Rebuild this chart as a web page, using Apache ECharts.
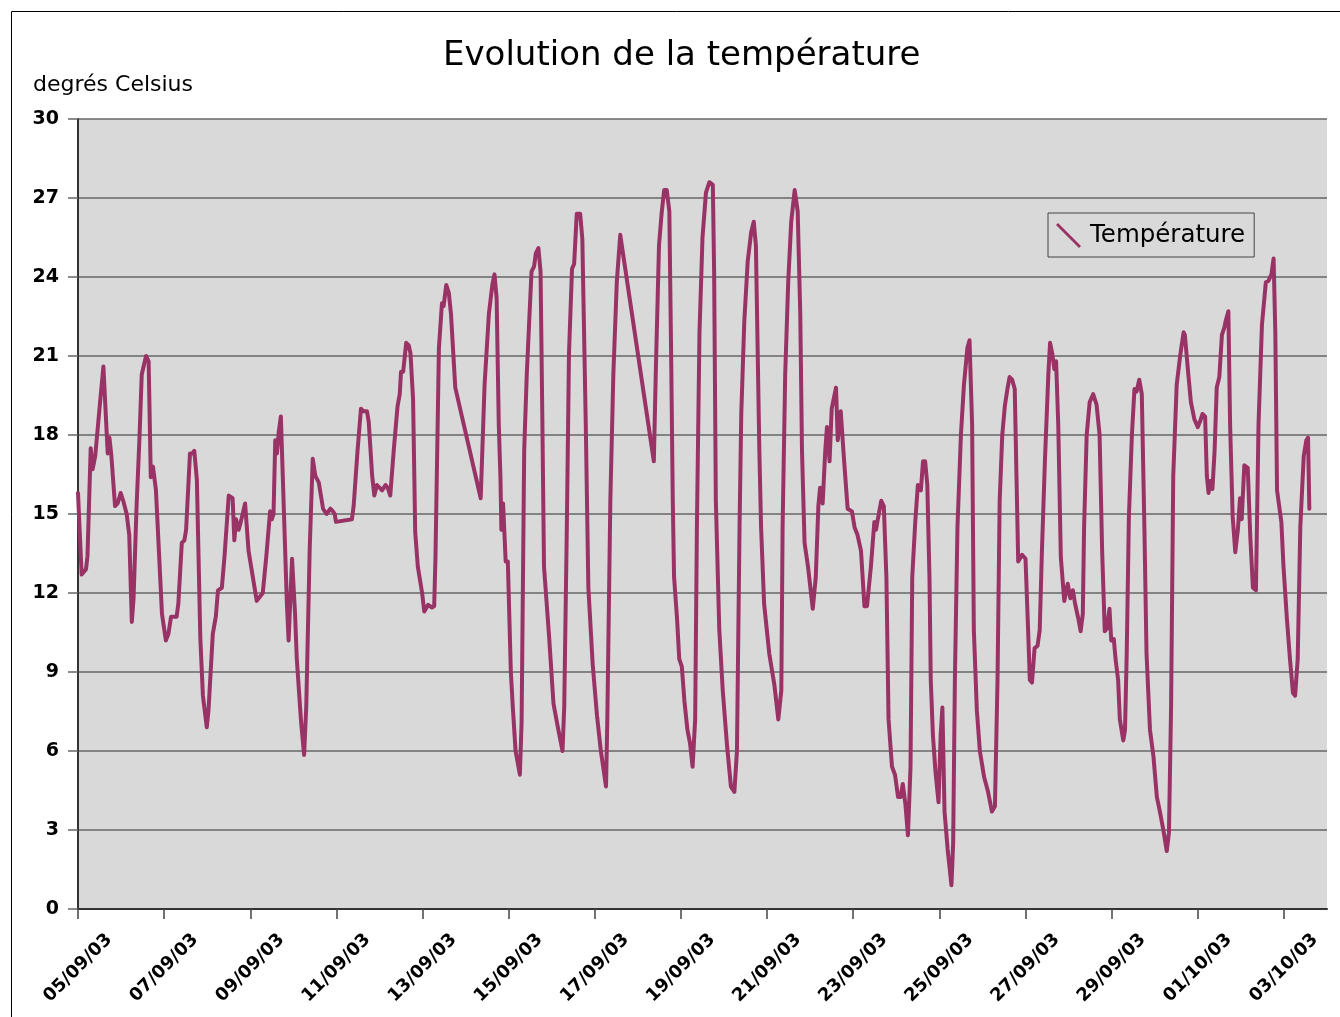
<!DOCTYPE html>
<html>
<head>
<meta charset="utf-8">
<title>Evolution de la température</title>
<script src="https://cdn.jsdelivr.net/npm/echarts@6/dist/echarts.min.js"></script>
<style>
  html, body { margin: 0; padding: 0; background: #fff; }
  #chart { width: 1340px; height: 1017px; }
</style>
</head>
<body>
<div id="chart"></div>
<script>
// tick labels, one every two days starting 05/09/03
const dateLabels = ['05/09/03', '07/09/03', '09/09/03', '11/09/03', '13/09/03', '15/09/03', '17/09/03',
    '19/09/03', '21/09/03', '23/09/03', '25/09/03', '27/09/03', '29/09/03', '01/10/03', '03/10/03'];
const tempTicks = [0, 3, 6, 9, 12, 15, 18, 21, 24, 27, 30];

// time of each reading, in days since 05/09/03 00:00
const days = [
    0, 0.085, 0.186, 0.22, 0.295, 0.34, 0.40, 0.51, 0.59, 0.63, 0.69, 0.73, 0.775, 0.86, 0.92, 0.99,
    1.05, 1.13, 1.19, 1.25, 1.29, 1.36, 1.43, 1.48, 1.58, 1.64, 1.69, 1.74, 1.81, 1.95,
    2.04, 2.10, 2.16, 2.29, 2.33, 2.41, 2.47, 2.51, 2.55, 2.60, 2.66, 2.70, 2.76, 2.84, 2.90, 2.99,
    3.03, 3.13, 3.20, 3.25, 3.34, 3.40, 3.50, 3.59, 3.63, 3.67, 3.73, 3.78, 3.88, 3.96,
    4.05, 4.15, 4.19, 4.29, 4.37, 4.46, 4.50, 4.54, 4.58, 4.62, 4.66, 4.71, 4.74, 4.85, 4.89, 4.97,
    5.04, 5.08, 5.18, 5.25, 5.30, 5.38, 5.45, 5.51, 5.55, 5.59, 5.63, 5.69, 5.77, 5.86, 5.92, 5.96, 5.99,
    6.36, 6.40, 6.49, 6.57, 6.63, 6.71, 6.75, 6.83, 6.88, 6.94,
    7.00, 7.06, 7.14, 7.19, 7.25, 7.33, 7.42, 7.47, 7.50, 7.55, 7.62, 7.68, 7.72, 7.78, 7.83, 7.89, 7.99,
    8.04, 8.13, 8.22, 8.27, 8.30, 8.38, 8.45, 8.49, 8.55, 8.61, 8.66, 8.76,
    9.35, 9.44, 9.54, 9.62, 9.67, 9.72, 9.77, 9.81, 9.83, 9.87, 9.91, 9.93, 9.98,
    10.05, 10.10, 10.16, 10.26, 10.30, 10.36, 10.42, 10.47, 10.53, 10.59, 10.63, 10.69, 10.74, 10.78, 10.82, 10.94,
    11.04, 11.13, 11.25, 11.29, 11.35, 11.40, 11.47, 11.52, 11.58, 11.66, 11.71, 11.79, 11.85, 11.95,
    12.05, 12.14, 12.26, 12.29, 12.36, 12.43, 12.51, 12.59,
    13.37, 13.42, 13.49, 13.55, 13.61, 13.67, 13.73, 13.77, 13.81, 13.84, 13.91, 13.96,
    14.02, 14.08, 14.15, 14.21, 14.27, 14.33, 14.37, 14.43, 14.50, 14.58, 14.66, 14.74, 14.77, 14.81, 14.89, 14.97,
    15.07, 15.16, 15.24, 15.30, 15.36, 15.40, 15.47, 15.55, 15.63, 15.69, 15.74, 15.82, 15.86, 15.93,
    16.05, 16.17, 16.26, 16.33, 16.36, 16.42, 16.49, 16.56, 16.64, 16.71, 16.77, 16.81, 16.87, 16.95,
    17.06, 17.13, 17.19, 17.23, 17.29, 17.35, 17.39, 17.45, 17.50, 17.60, 17.64, 17.71, 17.78, 17.87, 17.97,
    18.03, 18.10, 18.18, 18.26, 18.32, 18.41, 18.49, 18.53, 18.57, 18.65, 18.71, 18.77, 18.82, 18.90, 18.97,
    19.04, 19.10, 19.15, 19.21, 19.27, 19.33, 19.37, 19.44, 19.50, 19.57, 19.62, 19.67, 19.72, 19.77, 19.80, 19.85, 19.91, 19.98,
    20.03, 20.07, 20.12, 20.19, 20.28, 20.32, 20.36, 20.42, 20.50, 20.57, 20.65, 20.70, 20.76, 20.80, 20.87, 20.94,
    21.04, 21.13, 21.22, 21.29, 21.35, 21.40, 21.46, 21.52, 21.58, 21.63, 21.69, 21.75, 21.79, 21.83, 21.92,
    22.00, 22.06, 22.10, 22.15, 22.21, 22.28, 22.33, 22.38, 22.45, 22.53, 22.57, 22.62, 22.67, 22.71, 22.76, 22.82, 22.90, 22.98,
    23.04, 23.10, 23.15, 23.23, 23.28, 23.33, 23.36, 23.42, 23.49, 23.57, 23.65, 23.72, 23.78, 23.84, 23.89, 23.95, 23.99,
    24.05, 24.09, 24.15, 24.19, 24.27, 24.31, 24.35, 24.40, 24.47, 24.53, 24.58, 24.64, 24.70, 24.76, 24.81, 24.89, 24.97,
    25.05, 25.12, 25.20, 25.28, 25.33, 25.38, 25.43, 25.51, 25.59, 25.67, 25.70, 25.78, 25.84, 25.92,
    26.00, 26.05, 26.11, 26.17, 26.21, 26.25, 26.29, 26.34, 26.39, 26.44, 26.50, 26.56, 26.62, 26.65, 26.71, 26.75, 26.81, 26.87, 26.93, 26.98,
    27.02, 27.08, 27.16, 27.22, 27.28, 27.35, 27.41, 27.49, 27.58, 27.64, 27.71, 27.76, 27.80, 27.84, 27.94, 27.99,
    28.07, 28.14, 28.21, 28.26, 28.32, 28.38, 28.46, 28.52, 28.56, 28.59
];

// temperature in degrees Celsius, same order as days
const temps = [
    15.8, 12.7, 12.9, 13.4, 17.5, 16.7, 17.2, 19.2, 20.6, 20.6, 17.3, 17.9, 17.2, 15.3, 15.4, 15.8,
    15.5, 15.0, 14.2, 10.9, 11.8, 15.3, 18.0, 20.3, 21.0, 20.8, 16.4, 16.8, 15.9, 11.2,
    10.2, 10.45, 11.1, 11.1, 11.6, 13.9, 14.0, 14.4, 14.4, 17.3, 17.3, 17.4, 16.3, 10.3, 8.1, 6.9,
    7.55, 10.45, 11.1, 12.1, 12.2, 13.35, 15.7, 15.6, 14.0, 14.8, 14.4, 14.7, 15.4, 13.6,
    12.7, 11.7, 11.75, 12.0, 13.35, 15.1, 14.8, 15.0, 17.8, 17.3, 18.1, 18.7, 18.7, 11.6, 10.2, 13.3,
    11.2, 9.5, 7.1, 5.85, 7.7, 13.7, 17.1, 16.45, 16.5, 16.2, 16.2, 15.2, 15.0, 15.2, 15.1, 15.0, 14.7,
    14.8, 15.3, 17.4, 19.0, 18.9, 18.9, 18.5, 16.45, 15.7, 16.1,
    16.0, 15.9, 16.1, 16.0, 15.7, 17.4, 19.1, 19.55, 20.4, 20.4, 21.5, 21.4, 21.1, 19.35, 14.3, 13.0, 12.0,
    11.3, 11.55, 11.45, 11.5, 13.35, 21.3, 23.0, 22.9, 23.7, 23.4, 22.6, 19.8,
    15.6, 19.9, 22.6, 23.7, 24.1, 23.2, 18.4, 16.3, 14.4, 15.4, 15.4, 13.2, 13.2,
    9.0, 7.55, 6.0, 5.1, 7.1, 17.4, 20.3, 22.1, 24.2, 24.4, 24.9, 25.1, 24.2, 18.8, 13.0, 10.3,
    7.8, 7.0, 6.0, 7.7, 14.5, 21.1, 24.3, 24.5, 26.4, 26.4, 25.45, 18.4, 12.2, 9.3,
    7.35, 6.0, 4.65, 7.2, 15.5, 20.3, 23.8, 25.6,
    17.0, 20.7, 25.2, 26.4, 27.3, 27.3, 26.5, 21.3, 15.5, 12.6, 11.0, 9.5,
    9.2, 7.9, 6.8, 6.3, 5.4, 7.2, 14.5, 21.9, 25.5, 27.2, 27.6, 27.5, 24.2, 15.5, 10.6, 8.3,
    6.2, 4.65, 4.45, 6.0, 14.5, 18.8, 22.3, 24.6, 25.7, 26.1, 25.2, 17.4, 14.5, 11.6,
    9.7, 8.5, 7.2, 8.3, 14.5, 20.3, 23.8, 26.1, 27.3, 26.5, 22.6, 17.4, 13.9, 13.0,
    11.4, 12.6, 15.3, 16.0, 15.4, 17.4, 18.3, 17.0, 19.0, 19.8, 17.8, 18.9, 17.2, 15.2, 15.1,
    14.5, 14.2, 13.6, 11.5, 11.5, 13.0, 14.7, 14.4, 14.8, 15.5, 15.3, 12.6, 7.2, 5.4, 5.1,
    4.25, 4.25, 4.75, 4.0, 2.8, 5.4, 12.6, 14.7, 16.1, 15.9, 17.0, 17.0, 16.1, 12.6, 8.7, 6.6, 5.2, 4.05,
    6.6, 7.65, 3.7, 2.3, 0.9, 2.5, 8.7, 14.5, 18.0, 19.9, 21.3, 21.6, 18.4, 10.6, 7.55, 6.0,
    5.0, 4.45, 3.7, 3.9, 8.7, 15.5, 18.0, 19.1, 19.75, 20.2, 20.1, 19.75, 16.45, 13.2, 13.45,
    13.3, 10.6, 8.7, 8.6, 9.9, 10.0, 10.6, 13.55, 17.0, 20.3, 21.5, 21.1, 20.5, 20.8, 18.4, 13.35, 11.7, 12.35,
    11.8, 12.1, 11.6, 11.0, 10.55, 11.2, 14.5, 18.0, 19.25, 19.55, 19.15, 18.0, 13.55, 10.55, 10.65, 11.4, 10.2,
    10.25, 9.5, 8.7, 7.2, 6.4, 6.8, 9.7, 14.9, 18.0, 19.75, 19.65, 20.1, 19.55, 14.5, 9.7, 6.8, 5.8,
    4.25, 3.7, 3.0, 2.2, 2.9, 7.7, 16.45, 19.9, 21.0, 21.9, 21.8, 20.3, 19.25, 18.6,
    18.3, 18.5, 18.8, 18.7, 16.45, 15.8, 16.25, 15.95, 17.4, 19.8, 20.2, 21.8, 22.1, 22.35, 22.7, 18.4, 14.9, 13.55, 14.4, 15.6,
    14.8, 16.85, 16.75, 14.1, 12.2, 12.1, 18.4, 22.2, 23.8, 23.85, 24.1, 24.7, 21.9, 15.9, 14.7, 13.0,
    11.0, 9.5, 8.2, 8.1, 9.5, 14.5, 17.2, 17.8, 17.9, 15.2
];

const FONT = 'DejaVu Sans';
const chartDom = document.getElementById('chart'),
    tempChart = echarts.init(chartDom);

let option;

option = {
    animation: false,
    backgroundColor: '#fff',
    title: {
        text: 'Evolution de la température',
        left: 443,
        top: 39,
        padding: 0,
        textStyle: { fontFamily: FONT, fontSize: 34, fontWeight: 'normal', color: '#000' }
    },
    graphic: [
        {
            // outer frame of the chart
            type: 'rect',
            shape: { x: 11.5, y: 11.5, width: 1400, height: 1100 },
            style: { fill: 'none', stroke: '#000', lineWidth: 1 },
            silent: true
        },
        {
            type: 'text',
            left: 33,
            top: 74,
            style: { text: 'degrés Celsius', fontFamily: FONT, fontSize: 22, fill: '#000' }
        }
    ],
    legend: {
        data: ['Température'],
        left: 1048,
        top: 213,
        padding: [10, 9, 9, 8],
        borderColor: '#444',
        borderWidth: 1,
        backgroundColor: '#d9d9d9',
        icon: 'path://M0,2 L2,0 L25,23 L23,25 Z',
        itemWidth: 25,
        itemHeight: 25,
        itemStyle: { borderWidth: 0 },
        textStyle: { fontFamily: FONT, fontSize: 24.5, color: '#000', padding: [0, 0, 0, 4] }
    },
    grid: {
        left: 78,
        top: 119,
        right: 13,
        bottom: 108,
        show: true,
        backgroundColor: '#d9d9d9',
        borderWidth: 0
    },
    xAxis: {
        type: 'value',
        min: 0,
        max: 29,
        interval: 2,
        axisLine: { show: true, lineStyle: { color: '#333', width: 2 } },
        axisTick: {
            show: true,
            length: 10,
            customValues: dateLabels.map((d, i) => i * 2),
            lineStyle: { color: '#444', width: 1.5 }
        },
        splitLine: { show: false },
        axisLabel: {
            customValues: dateLabels.map((d, i) => i * 2),
            rotate: 45,
            align: 'center',
            verticalAlign: 'middle',
            margin: 59,
            fontFamily: FONT,
            fontSize: 18,
            fontWeight: 'bold',
            color: '#000',
            formatter: function (val) {
                return dateLabels[Math.round(val / 2)] || '';
            }
        }
    },
    yAxis: {
        type: 'value',
        min: tempTicks[0],
        max: tempTicks[tempTicks.length - 1],
        interval: 3,
        axisLine: { show: true, lineStyle: { color: '#333', width: 2 } },
        axisTick: { show: true, length: 10, lineStyle: { color: '#666', width: 1.5 } },
        splitLine: { show: true, lineStyle: { color: '#666', width: 1.5 } },
        axisLabel: {
            margin: 19,
            fontFamily: FONT,
            fontSize: 19,
            fontWeight: 'bold',
            color: '#000'
        }
    },
    series: [
        {
            name: 'Température',
            type: 'line',
            symbol: 'none',
            smooth: false,
            lineStyle: { color: '#993366', width: 4, join: 'round', cap: 'round' },
            itemStyle: { color: '#993366' },
            data: days.map((d, i) => [d, temps[i]])
        }
    ]
};

option && tempChart.setOption(option);
</script>
</body>
</html>
